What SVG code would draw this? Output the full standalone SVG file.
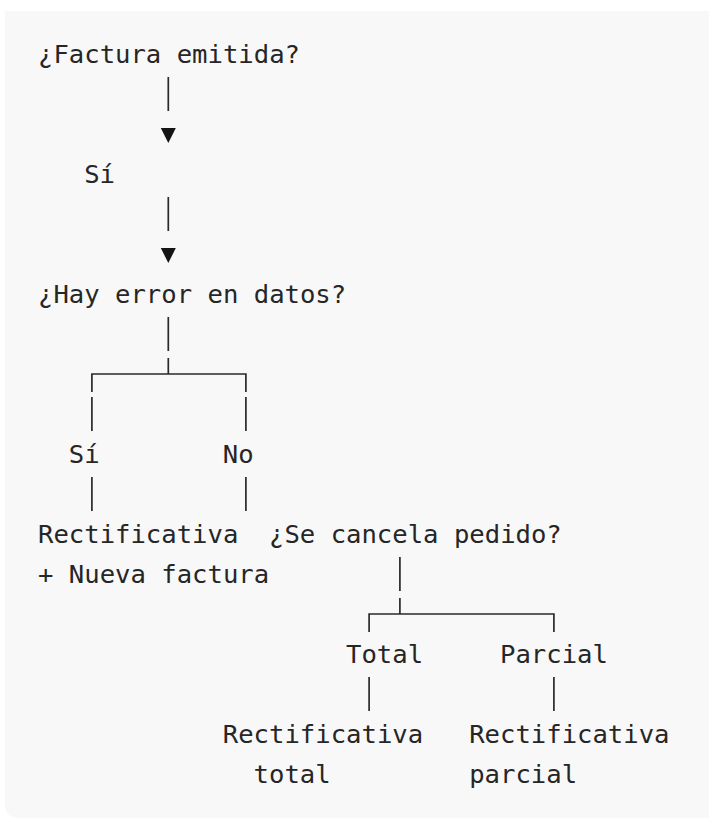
<svg xmlns="http://www.w3.org/2000/svg" width="709" height="818" viewBox="0 0 709 818">
<style>
  .t { font-family: "DejaVu Sans Mono", "Liberation Mono", monospace; font-size: 25.6px; fill: #262626; }
  .c { stroke: #2a2a2a; stroke-width: 1.7; fill: none; }
  .a { fill: #141414; stroke: none; }
</style>
<rect x="0" y="0" width="709" height="818" fill="#ffffff"/>
<path d="M5,11 H740 V818 H19 Q5,818 5,804 Z" fill="#f8f8f8"/>
<g id="connectors">
  <path class="c" d="M168.3,77 V111 M168.3,197 V231 M168.3,317 V351"/>
  <polygon class="a" points="160.8,128 175.8,128 168.3,143"/>
  <polygon class="a" points="160.8,248 175.8,248 168.3,263"/>
  <path class="c" d="M168.3,358 V374 M91.9,392 V374 H245.9 V392"/>
  <path class="c" d="M91.9,397 V431 M245.9,397 V431 M91.9,477 V511 M245.9,477 V511"/>
  <path class="c" d="M399.9,557 V591 M399.9,598 V614 M369.1,632 V614 H553.9 V632"/>
  <path class="c" d="M369.1,677 V711 M553.9,677 V711"/>
</g>
<g id="n-factura"><text class="t" x="38" y="63">¿Factura emitida?</text></g>
<g id="l-si1"><text class="t" x="84.2" y="183">Sí</text></g>
<g id="n-error"><text class="t" x="38" y="303">¿Hay error en datos?</text></g>
<g id="l-si2"><text class="t" x="68.8" y="463">Sí</text></g>
<g id="l-no"><text class="t" x="222.8" y="463">No</text></g>
<g id="n-rect-nueva"><text class="t" x="38" y="543">Rectificativa</text><text class="t" x="38" y="583">+ Nueva factura</text></g>
<g id="n-cancela"><text class="t" x="269" y="543">¿Se cancela pedido?</text></g>
<g id="l-total"><text class="t" x="346" y="663">Total</text></g>
<g id="l-parcial"><text class="t" x="500" y="663">Parcial</text></g>
<g id="n-rect-total"><text class="t" x="222.8" y="743">Rectificativa</text><text class="t" x="253.6" y="783">total</text></g>
<g id="n-rect-parcial"><text class="t" x="469.2" y="743">Rectificativa</text><text class="t" x="469.2" y="783">parcial</text></g>
</svg>
